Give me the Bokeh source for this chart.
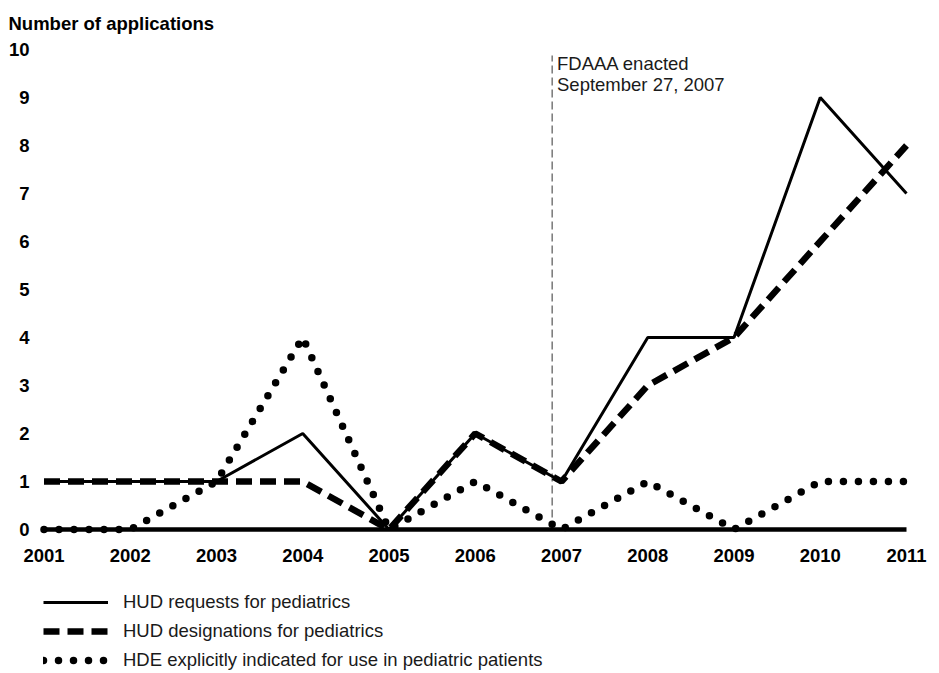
from bokeh.plotting import figure
from bokeh.models import Range1d, FixedTicker, Legend, LegendItem, Label
from bokeh.embed import file_html
from bokeh.resources import INLINE

# ---- data ----
years = [2001, 2002, 2003, 2004, 2005, 2006, 2007, 2008, 2009, 2010, 2011]
hud_requests = [1, 1, 1, 2, 0, 2, 1, 4, 4, 9, 7]
hud_designations = [1, 1, 1, 1, 0, 2, 1, 3, 4, 6, 8]
hde_pediatric = [0, 0, 1, 4, 0, 1, 0, 1, 0, 1, 1]
y_ticks = [0, 1, 2, 3, 4, 5, 6, 7, 8, 9, 10]
series_names = [
    "HUD requests for pediatrics",
    "HUD designations for pediatrics",
    "HDE explicitly indicated for use in pediatric patients",
]
y_title = "Number of applications"
event_text = "FDAAA enacted\nSeptember 27, 2007"
event_x = 2006.892
event_top = 9.875

FONT = "Liberation Sans"
FS = "18.5px"

p = figure(width=939, height=673, output_backend="svg", toolbar_location=None,
           title=None,
           x_range=Range1d(2000.4957, 2011.3826), y_range=Range1d(-3.0, 11.021),
           min_border_left=0, min_border_right=0, min_border_top=0,
           min_border_bottom=0)
p.outline_line_color = None
p.grid.visible = False
p.background_fill_color = "white"
p.border_fill_color = "white"

# x axis drawn at y = 0
xa = p.xaxis[0]
xa.ticker = FixedTicker(ticks=years)
xa.fixed_location = 0
xa.bounds = (years[0], years[-1])
xa.axis_line_width = 4.5
xa.axis_line_color = "black"
xa.major_tick_line_color = None
xa.minor_tick_line_color = None
xa.major_tick_out = 0
xa.major_label_standoff = 19
xa.major_label_text_font = FONT
xa.major_label_text_font_style = "bold"
xa.major_label_text_font_size = FS
xa.major_label_text_color = "black"

ya = p.yaxis[0]
ya.ticker = FixedTicker(ticks=y_ticks)
ya.fixed_location = 2000.855
ya.axis_line_color = None
ya.major_tick_line_color = None
ya.minor_tick_line_color = None
ya.major_tick_out = 0
ya.major_label_standoff = 2
ya.major_label_text_font = FONT
ya.major_label_text_font_style = "bold"
ya.major_label_text_font_size = FS
ya.major_label_text_color = "black"

# event marker
p.segment(x0=[event_x], y0=[0], x1=[event_x], y1=[event_top],
          line_color="#777777", line_width=1.5, line_dash="8 4")

r1 = p.line(years, hud_requests, line_color="black", line_width=3)
r2 = p.line(years, hud_designations, line_color="black", line_width=6.5,
            line_dash="16 8")
r3 = p.line(years, hde_pediatric, line_color="black", line_width=7.5,
            line_dash="0 15", line_cap="round")

p.add_layout(Label(x=2006.948, y=9.931, text=event_text,
                   text_baseline="top", text_align="left", text_font=FONT,
                   text_font_size=FS, text_line_height=1.0,
                   text_color="#1a1a1a"))

p.add_layout(Label(x=2000.5884, y=10.5417, text=y_title,
                   text_baseline="alphabetic", text_align="left",
                   text_font=FONT, text_font_size=FS,
                   text_font_style="bold", text_color="black"))

legend = Legend(items=[LegendItem(label=series_names[0], renderers=[r1]),
                       LegendItem(label=series_names[1], renderers=[r2]),
                       LegendItem(label=series_names[2], renderers=[r3])],
                location=(43, 2), orientation="vertical",
                glyph_width=65, glyph_height=22, label_height=22, spacing=7,
                padding=0, margin=0, label_standoff=15,
                border_line_color=None, background_fill_alpha=0,
                label_text_font=FONT, label_text_font_size=FS,
                label_text_color="#1a1a1a")
p.add_layout(legend)

open("out.html", "w").write(file_html(p, INLINE))
